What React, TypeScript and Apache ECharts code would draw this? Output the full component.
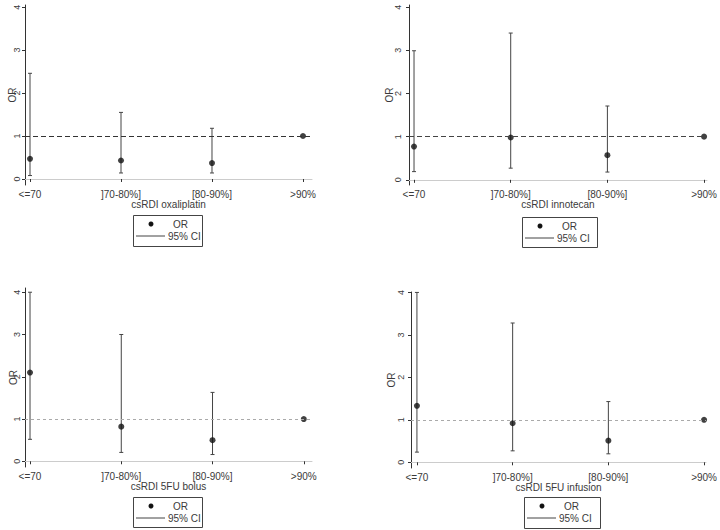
import React, { useEffect, useRef } from "react";
import * as echarts from "echarts";

const categories = ["<=70", "]70-80%]", "[80-90%]", ">90%"];
const catPos = [1, 2, 3, 4];
const yTicks = [0, 1, 2, 3, 4];

const titles = ["csRDI oxaliplatin", "csRDI innotecan", "csRDI 5FU bolus", "csRDI 5FU infusion"];

const orOxali = [0.47, 0.43, 0.37, 1];
const loOxali = [0.08, 0.14, 0.14, null];
const hiOxali = [2.46, 1.55, 1.18, null];

const orIrino = [0.77, 0.98, 0.57, 1];
const loIrino = [0.19, 0.27, 0.18, null];
const hiIrino = [2.99, 3.4, 1.71, null];

const orBolus = [2.1, 0.82, 0.5, 1];
const loBolus = [0.52, 0.21, 0.16, null];
const hiBolus = [4.0, 3.0, 1.63, null];

const orInfus = [1.33, 0.92, 0.51, 1];
const loInfus = [0.24, 0.27, 0.2, null];
const hiInfus = [4.0, 3.28, 1.43, null];

const panelsData = [
  { or: orOxali, lo: loOxali, hi: hiOxali },
  { or: orIrino, lo: loIrino, hi: hiIrino },
  { or: orBolus, lo: loBolus, hi: hiBolus },
  { or: orInfus, lo: loInfus, hi: hiInfus },
];

// layout (pixels)
const layouts = [
  { left: 25, top: 5, width: 287, height: 180, xmin: 0.945, xmax: 4.099, ymin: -0.14, ymax: 4.05, nameGapY: 8, labelMargin: 4, refColor: "#333", refDash: [5, 3], legend: { x: 133, y: 215, w: 69, h: 31 } },
  { left: 409, top: 5, width: 299, height: 180, xmin: 0.948, xmax: 4.03, ymin: -0.12, ymax: 4.05, nameGapY: 15, labelMargin: 7, refColor: "#444", refDash: [5, 3], legend: { x: 522, y: 217, w: 75, h: 30 } },
  { left: 25, top: 288, width: 287, height: 179, xmin: 0.945, xmax: 4.09, ymin: -0.135, ymax: 4.1, nameGapY: 7, labelMargin: 4, refColor: "#aaa", refDash: [3, 3], legend: { x: 133, y: 497, w: 69, h: 30 } },
  { left: 411, top: 292, width: 299, height: 176, xmin: 0.938, xmax: 4.02, ymin: -0.134, ymax: 4.01, nameGapY: 15, labelMargin: 6, refColor: "#aaa", refDash: [3, 3], legend: { x: 524, y: 497, w: 76, h: 31 } },
];

const FONT = "Liberation Sans";
const TXT = "#3a3a3a";

export default function App() {
  const ref = useRef<HTMLDivElement>(null);
  useEffect(() => {
    if (!ref.current) return;
    const chart = echarts.init(ref.current, null, { renderer: "svg" });
    const grid: any[] = [];
    const xAxis: any[] = [];
    const yAxis: any[] = [];
    const series: any[] = [];
    const graphic: any[] = [];

    layouts.forEach((L, i) => {
      grid.push({ left: L.left, top: L.top, width: L.width, height: L.height });
      xAxis.push({
        type: "value",
        gridIndex: i,
        min: L.xmin,
        max: L.xmax,
        name: titles[i],
        nameLocation: "middle",
        nameGap: 14,
        nameMoveOverlap: false,
        nameTextStyle: { color: TXT, fontSize: 10, fontFamily: FONT },
        axisLine: { show: true, lineStyle: { color: "#ccc", width: 1 } },
        axisTick: { show: true, length: 3, customValues: catPos, lineStyle: { color: "#333" } },
        axisLabel: {
          customValues: catPos,
          margin: 4,
          color: TXT,
          fontSize: 10,
          fontFamily: FONT,
          formatter: (v: number) => categories[Math.round(v) - 1] ?? "",
        },
        splitLine: { show: false },
      });
      yAxis.push({
        type: "value",
        gridIndex: i,
        min: L.ymin,
        max: L.ymax,
        name: "OR",
        nameLocation: "middle",
        nameGap: L.nameGapY,
        nameMoveOverlap: false,
        nameTextStyle: { color: TXT, fontSize: 10, fontFamily: FONT },
        axisLine: { show: true, lineStyle: { color: "#333", width: 1 } },
        axisTick: { show: true, length: 3, customValues: yTicks, lineStyle: { color: "#333" } },
        axisLabel: { customValues: yTicks, rotate: 90, margin: L.labelMargin, color: TXT, fontSize: 9, fontFamily: FONT },
        splitLine: { show: false },
      });

      const d = panelsData[i];
      const ciData = catPos
        .map((x, k) => (d.lo[k] == null ? null : [x, d.lo[k], d.hi[k]]))
        .filter((r) => r != null);
      series.push({
        type: "custom",
        name: "95% CI",
        xAxisIndex: i,
        yAxisIndex: i,
        data: ciData,
        renderItem: (params: any, api: any) => {
          const x = api.value(0);
          const lo = api.coord([x, api.value(1)]);
          const hi = api.coord([x, api.value(2)]);
          const cap = 2;
          const style = { stroke: "#444", lineWidth: 1 };
          return {
            type: "group",
            children: [
              { type: "line", shape: { x1: lo[0], y1: lo[1], x2: hi[0], y2: hi[1] }, style },
              { type: "line", shape: { x1: lo[0] - cap, y1: lo[1], x2: lo[0] + cap, y2: lo[1] }, style },
              { type: "line", shape: { x1: hi[0] - cap, y1: hi[1], x2: hi[0] + cap, y2: hi[1] }, style },
            ],
          };
        },
        z: 3,
      });
      series.push({
        type: "scatter",
        name: "OR",
        xAxisIndex: i,
        yAxisIndex: i,
        symbol: "circle",
        symbolSize: 6,
        itemStyle: { color: "#111" },
        data: catPos.map((x, k) => [x, d.or[k]]),
        markLine: {
          silent: true,
          symbol: "none",
          label: { show: false },
          lineStyle: { color: L.refColor, type: L.refDash, width: 1 },
          data: [{ yAxis: 1 }],
        },
        z: 4,
      });

      const lg = L.legend;
      graphic.push(
        { type: "rect", shape: { x: lg.x + 0.5, y: lg.y + 0.5, width: lg.w, height: lg.h }, style: { fill: "#fff", stroke: "#444", lineWidth: 1 } },
        { type: "circle", shape: { cx: lg.x + 18, cy: lg.y + 9, r: 2.5 }, style: { fill: "#111" } },
        { type: "text", x: lg.x + 40, y: lg.y + 9, style: { text: "OR", fill: TXT, font: `10px ${FONT}`, verticalAlign: "middle" } },
        { type: "line", shape: { x1: lg.x + 3, y1: lg.y + 21, x2: lg.x + 32, y2: lg.y + 21 }, style: { stroke: "#444", lineWidth: 1 } },
        { type: "text", x: lg.x + 35, y: lg.y + 21, style: { text: "95% CI", fill: TXT, font: `10px ${FONT}`, verticalAlign: "middle" } }
      );
    });

    chart.setOption({
      animation: false,
      backgroundColor: "#fff",
      grid,
      xAxis,
      yAxis,
      series,
      graphic,
    });
    return () => chart.dispose();
  }, []);
  return <div ref={ref} style={{ position: "absolute", left: 0, top: 0, width: 720, height: 530 }} />;
}
